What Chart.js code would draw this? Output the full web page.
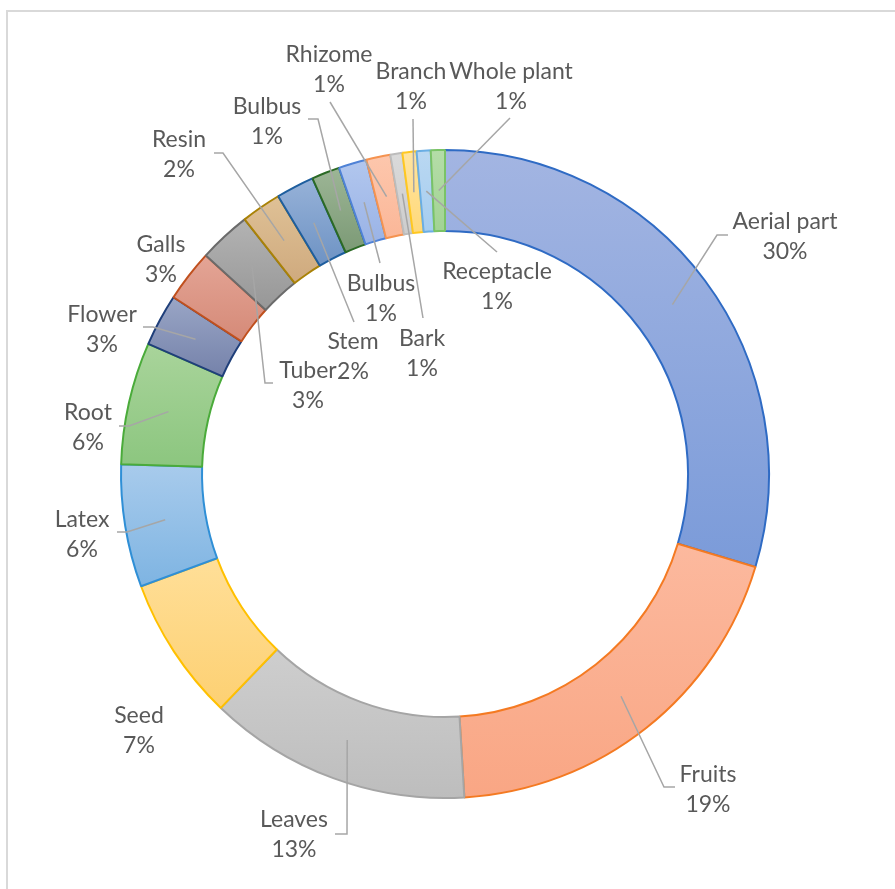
<!DOCTYPE html>
<html>
<head>
<meta charset="utf-8">
<script src="https://cdn.jsdelivr.net/npm/chart.js@4.4.0/dist/chart.umd.min.js"></script>
<style>
  html, body { margin: 0; padding: 0; background: #ffffff; }
  #wrap { position: relative; width: 895px; height: 889px; overflow: hidden; }
  #frame { position: absolute; left: 6px; top: 10px; width: 1000px; height: 1000px;
           border-left: 2px solid #d9d9d9; border-top: 2px solid #d9d9d9; }
  canvas { position: absolute; left: 0; top: 0; }
</style>
</head>
<body>
<div id="wrap">
  <div id="frame"></div>
  <canvas id="chart" width="895" height="889"></canvas>
</div>
<script>
// Plant parts used, share of reports (%)
const categories = ['Aerial part', 'Fruits', 'Leaves', 'Seed', 'Latex', 'Root', 'Flower', 'Galls',
  'Tuber', 'Resin', 'Stem', 'Bulbus', 'Bulbus', 'Rhizome', 'Bark', 'Branch', 'Receptacle', 'Whole plant'];
const shares = [29.6, 19.4, 13.1, 7.2, 6.1, 6.1, 2.6, 2.6, 2.6, 2.0, 1.9, 1.4, 1.4, 1.2, 0.6, 0.7, 0.7, 0.7];

// Slice fills: vertical gradient from a light top to a deeper bottom, plus outline
const fillTop = ['#a3b5e2', '#fcb99e', '#cecece', '#ffdf98', '#a8cbec', '#a9d49b', '#9aa6c6', '#e4a596',
  '#b3b3b3', '#dfc196', '#97b2d8', '#9db696', '#b2c7ee', '#fdc7ad', '#dadada', '#ffe4a0', '#bad8f2', '#b5dda8'];
const fillBottom = ['#7b9bd9', '#f9a684', '#bdbdbd', '#fdd072', '#7eb4e2', '#8cc67f', '#7582aa', '#d58a78',
  '#979797', '#cfaa7e', '#6e93c4', '#7c9a76', '#9ab3e6', '#fbb798', '#cdcdcd', '#ffd97a', '#a6cdef', '#a2d394'];
const outline = ['#2f6bc4', '#f47a22', '#a5a5a5', '#ffc000', '#2f8fd6', '#4aab3a', '#1f3f7a', '#c0501e',
  '#6b6b6b', '#a98207', '#1e5e9e', '#2b6a25', '#4f82d6', '#f59350', '#bcbcbc', '#ffc820', '#6aaee4', '#7ac366'];

// Label placement relative to the ring centre: text centre and leader bend points
const labelLayout = [
  { at: [340, -237], leader: [[272, -239], [283, -239]] },
  { at: [263, 316], leader: [[219, 313], [230, 313]] },
  { at: [-151, 361], leader: [[-98, 360], [-110, 360]] },
  { at: [-306, 257], leader: [] },
  { at: [-363, 61], leader: [[-318, 58], [-328, 58]] },
  { at: [-357, -46], leader: [[-316, -48], [-326, -48]] },
  { at: [-343, -144], leader: [[-292, -147], [-302, -147]] },
  { at: [-284, -214], leader: [] },
  { at: [-137, -88], leader: [[-180, -91], [-172, -91]] },
  { at: [-266, -319], leader: [[-222, -321], [-231, -321]] },
  { at: [-92, -117], leader: [[-91, -152]] },
  { at: [-178, -352], leader: [[-127, -355], [-137, -355]] },
  { at: [-64, -175], leader: [[-65, -211]] },
  { at: [-116, -404], leader: [[-115, -372]] },
  { at: [-23, -120], leader: [[-22, -156]] },
  { at: [-34, -387], leader: [[-32, -355]] },
  { at: [52, -187], leader: [[52, -222]] },
  { at: [66, -387], leader: [[65, -356]] }
];

const CUTOUT = 0.75;
const total = shares.reduce((a, b) => a + b, 0);

function sliceGradient(context) {
  const i = context.dataIndex;
  const chart = context.chart;
  const area = chart.chartArea;
  if (i === undefined || !area) return fillTop[i || 0];
  let before = 0;
  for (let k = 0; k < i; k++) before += shares[k];
  const a0 = -Math.PI / 2 + before / total * Math.PI * 2;
  const a1 = a0 + shares[i] / total * Math.PI * 2;
  const cx = (area.left + area.right) / 2;
  const cy = (area.top + area.bottom) / 2;
  const R = Math.min(area.width, area.height) / 2;
  const r = R * CUTOUT;
  let minY = Infinity, maxY = -Infinity;
  for (let k = 0; k <= 36; k++) {
    const a = a0 + (a1 - a0) * k / 36;
    for (const rad of [r, R]) {
      const y = cy + rad * Math.sin(a);
      if (y < minY) minY = y;
      if (y > maxY) maxY = y;
    }
  }
  const g = chart.ctx.createLinearGradient(0, minY, 0, maxY);
  g.addColorStop(0, fillTop[i]);
  g.addColorStop(1, fillBottom[i]);
  return g;
}

const sliceLabels = {
  id: 'sliceLabels',
  afterDatasetsDraw(chart) {
    const ctx = chart.ctx;
    const meta = chart.getDatasetMeta(0);
    const cx = meta.data[0].x, cy = meta.data[0].y;
    ctx.save();
    ctx.strokeStyle = '#a6a6a6';
    ctx.lineWidth = 1.5;
    ctx.lineJoin = 'miter';
    meta.data.forEach((arc, i) => {
      const lay = labelLayout[i];
      if (!lay.leader.length) return;
      const p = arc.tooltipPosition();
      ctx.beginPath();
      ctx.moveTo(p.x, p.y);
      lay.leader.forEach(([x, y]) => ctx.lineTo(cx + x, cy + y));
      ctx.stroke();
    });
    ctx.fillStyle = '#595959';
    ctx.font = '23px Lato';
    ctx.textAlign = 'center';
    ctx.textBaseline = 'middle';
    meta.data.forEach((arc, i) => {
      const lay = labelLayout[i];
      const pct = Math.round(shares[i] / total * 100) + '%';
      ctx.fillText(categories[i], cx + lay.at[0], cy + lay.at[1] - 15);
      ctx.fillText(pct, cx + lay.at[0], cy + lay.at[1] + 15);
    });
    ctx.restore();
  }
};

new Chart(document.getElementById('chart'), {
  type: 'doughnut',
  data: {
    labels: categories,
    datasets: [{
      data: shares,
      backgroundColor: sliceGradient,
      borderColor: outline,
      borderWidth: 2
    }]
  },
  options: {
    responsive: false,
    animation: false,
    devicePixelRatio: 1,
    cutout: (CUTOUT * 100) + '%',
    layout: { padding: { left: 120, right: 125, top: 149, bottom: 90 } },
    plugins: {
      legend: { display: false },
      tooltip: { enabled: false }
    }
  },
  plugins: [sliceLabels]
});
</script>
</body>
</html>
